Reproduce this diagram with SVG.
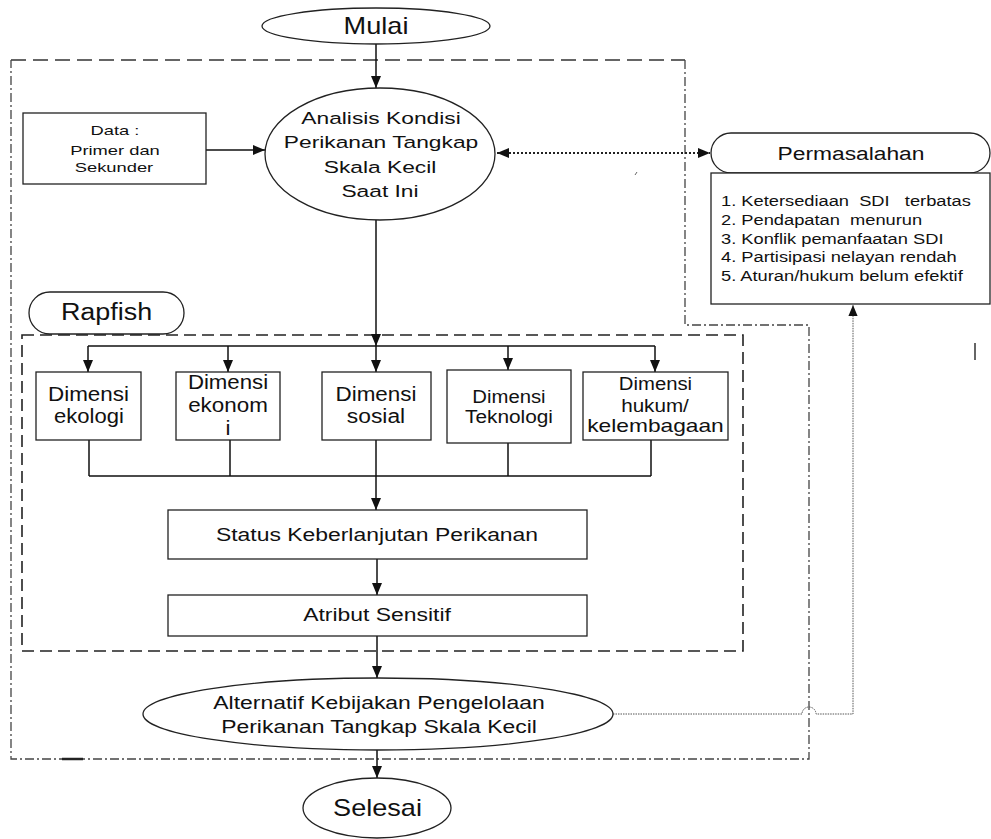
<svg xmlns="http://www.w3.org/2000/svg" width="991" height="839" viewBox="0 0 991 839">
<style>
text{font-family:"Liberation Sans",Arial,sans-serif;fill:#111;text-anchor:middle}
.st{text-anchor:start}
.box{fill:#fff;stroke:#222;stroke-width:1.3}
.ln{fill:none;stroke:#111;stroke-width:1.5}
.dd{fill:none;stroke:#444;stroke-width:1.3;stroke-dasharray:9 3 2 3}
.dt{fill:none;stroke:#333;stroke-width:1.4;stroke-dasharray:15 7}
.rd{fill:none;stroke:#222;stroke-width:1.6;stroke-dasharray:12 6}
.dot{fill:none;stroke:#222;stroke-width:2;stroke-dasharray:2 2}
.fine{fill:none;stroke:#555;stroke-width:1;stroke-dasharray:1.5 1}
</style>
<defs>
<marker id="arr" viewBox="0 0 12 10" markerWidth="12" markerHeight="10" refX="12" refY="5" orient="auto-start-reverse" markerUnits="userSpaceOnUse">
<path d="M0,0 L12,5 L0,10 z" fill="#111"/>
</marker>
<marker id="arrs" viewBox="0 0 12 10" markerWidth="11" markerHeight="10" refX="12" refY="5" orient="auto-start-reverse" markerUnits="userSpaceOnUse">
<path d="M0,0 L12,5 L0,10 z" fill="#111"/>
</marker>
</defs>

<g id="frames">
<path class="dt" d="M11,60 H685"/>
<path class="dd" d="M685,60 V325 H809 V759 H11 V60"/>
<path d="M62,759 H83" stroke="#222" stroke-width="2.5"/>
<path class="rd" d="M22,335 H743 V651 H22 Z"/>
<path d="M635,175 L637,172" stroke="#666" stroke-width="1"/>
<path d="M975,343 V360" stroke="#333" stroke-width="1.5"/>
</g>

<g id="connectors">
<path class="ln" d="M376,44 V88" marker-end="url(#arr)"/>
<path class="ln" d="M206,150 H265" marker-end="url(#arr)"/>
<path class="dot" d="M497,153 H710" marker-start="url(#arr)" marker-end="url(#arr)"/>
<path class="ln" d="M376,220 V346" marker-end="url(#arr)"/>
<path class="ln" d="M88,346 H655"/>
<path class="ln" d="M88,346 V372" marker-end="url(#arr)"/>
<path class="ln" d="M228,346 V372" marker-end="url(#arr)"/>
<path class="ln" d="M376,346 V372" marker-end="url(#arr)"/>
<path class="ln" d="M508,346 V370" marker-end="url(#arr)"/>
<path class="ln" d="M655,346 V372" marker-end="url(#arr)"/>
<path class="ln" d="M89,440 V476 M230,440 V476 M508,443 V476 M651,440 V476 M89,476 H651"/>
<path class="ln" d="M376,440 V510" marker-end="url(#arr)"/>
<path class="ln" d="M377,559 V595" marker-end="url(#arr)"/>
<path class="ln" d="M377,636 V678" marker-end="url(#arr)"/>
<path class="ln" d="M377,750 V778" marker-end="url(#arr)"/>
<path class="fine" d="M613,714 H802 A7,7 0 0 1 816,714 H853 V305" marker-end="url(#arrs)"/>
</g>

<g id="mulai">
<ellipse class="box" cx="376" cy="26" rx="114" ry="18"/>
<text transform="translate(376,34) scale(1.18,1)" font-size="23">Mulai</text>
</g>

<g id="data">
<rect class="box" x="23" y="113" width="183" height="71"/>
<text transform="translate(115,135) scale(1.41,1)" font-size="13">Data :</text>
<text transform="translate(115,155) scale(1.41,1)" font-size="13">Primer dan</text>
<text transform="translate(114,172) scale(1.41,1)" font-size="13">Sekunder</text>
</g>

<g id="analisis">
<ellipse class="box" cx="380" cy="154" rx="115" ry="66"/>
<text transform="translate(381,124) scale(1.34,1)" font-size="17">Analisis Kondisi</text>
<text transform="translate(381,148) scale(1.34,1)" font-size="17">Perikanan Tangkap</text>
<text transform="translate(380,173) scale(1.34,1)" font-size="17">Skala Kecil</text>
<text transform="translate(380,197) scale(1.34,1)" font-size="17">Saat Ini</text>
</g>

<g id="permasalahan">
<rect class="box" x="711" y="133" width="279" height="40" rx="20" ry="20"/>
<text transform="translate(851,160) scale(1.2,1)" font-size="19">Permasalahan</text>
</g>

<g id="daftar">
<rect class="box" x="711" y="173" width="279" height="131"/>
<text class="st" transform="translate(721,206) scale(1.18,1)" font-size="15.5" xml:space="preserve">1. Ketersediaan  SDI   terbatas</text>
<text class="st" transform="translate(721,225) scale(1.18,1)" font-size="15.5" xml:space="preserve">2. Pendapatan  menurun</text>
<text class="st" transform="translate(721,244) scale(1.18,1)" font-size="15.5">3. Konflik pemanfaatan SDI</text>
<text class="st" transform="translate(721,262) scale(1.18,1)" font-size="15.5">4. Partisipasi nelayan rendah</text>
<text class="st" transform="translate(721,281) scale(1.18,1)" font-size="15.5">5. Aturan/hukum belum efektif</text>
</g>

<g id="rapfish">
<rect class="box" x="29" y="292" width="155" height="42" rx="21" ry="21"/>
<text transform="translate(106.5,320) scale(1.17,1)" font-size="23">Rapfish</text>
</g>

<g id="ekologi">
<rect class="box" x="36" y="372" width="105" height="68"/>
<text transform="translate(88.5,401) scale(1.15,1)" font-size="19.5">Dimensi</text>
<text transform="translate(89,423) scale(1.13,1)" font-size="19.5">ekologi</text>
</g>

<g id="ekonomi">
<rect class="box" x="176" y="372" width="104" height="68"/>
<text transform="translate(228,389) scale(1.14,1)" font-size="19.5">Dimensi</text>
<text transform="translate(228,412) scale(1.15,1)" font-size="19.5">ekonom</text>
<text transform="translate(228,435) scale(1.15,1)" font-size="19.5">i</text>
</g>

<g id="sosial">
<rect class="box" x="322" y="372" width="109" height="68"/>
<text transform="translate(376,401) scale(1.15,1)" font-size="19.5">Dimensi</text>
<text transform="translate(376,423) scale(1.17,1)" font-size="19.5">sosial</text>
</g>

<g id="teknologi">
<rect class="box" x="447" y="370" width="124" height="73"/>
<text transform="translate(509,403) scale(1.16,1)" font-size="17.5">Dimensi</text>
<text transform="translate(509,423) scale(1.19,1)" font-size="17.5">Teknologi</text>
</g>

<g id="hukum">
<rect class="box" x="583" y="372" width="145" height="68"/>
<text transform="translate(655.5,390) scale(1.16,1)" font-size="17.5">Dimensi</text>
<text transform="translate(655,412) scale(1.18,1)" font-size="17.5">hukum/</text>
<text transform="translate(655.5,432) scale(1.3,1)" font-size="17.5">kelembagaan</text>
</g>

<g id="status">
<rect class="box" x="168" y="510" width="419" height="49"/>
<text transform="translate(377,541) scale(1.31,1)" font-size="17.5">Status Keberlanjutan Perikanan</text>
</g>

<g id="atribut">
<rect class="box" x="168" y="595" width="419" height="41"/>
<text transform="translate(377,621) scale(1.31,1)" font-size="17.5">Atribut Sensitif</text>
</g>

<g id="alternatif">
<ellipse class="box" cx="378" cy="714" rx="235" ry="36"/>
<text transform="translate(379,709) scale(1.24,1)" font-size="18.5">Alternatif Kebijakan Pengelolaan</text>
<text transform="translate(379,733) scale(1.24,1)" font-size="18.5">Perikanan Tangkap Skala Kecil</text>
</g>

<g id="selesai">
<ellipse class="box" cx="377" cy="808" rx="74" ry="30"/>
<text transform="translate(377.5,816) scale(1.13,1)" font-size="24">Selesai</text>
</g>
</svg>
